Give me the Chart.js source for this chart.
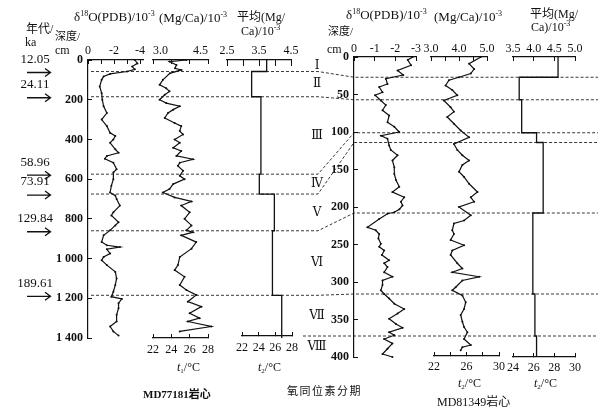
<!DOCTYPE html>
<html>
<head>
<meta charset="utf-8">
<script src="https://cdn.jsdelivr.net/npm/chart.js@4/dist/chart.umd.min.js"></script>
<style>
  html, body { margin: 0; padding: 0; background: #fff; }
  #fig { position: relative; width: 600px; height: 415px; overflow: hidden;
         font-family: 'Liberation Serif', 'Times New Roman', 'Noto Sans CJK SC', serif; color: #111; }
  #fig canvas { position: absolute; }
  .t { position: absolute; white-space: nowrap; font-size: 12px; line-height: 1; }
  .h { font-size: 13px; }
  .sup { font-size: 8px; position: relative; top: -5px; }
  .sub { font-size: 7px; position: relative; top: 2px; }
</style>
</head>
<body>
<div id="fig">
  <div class="t" style="left:26px;top:23px">年代/</div>
  <div class="t" style="left:25px;top:36px">ka</div>
  <div class="t" style="left:55px;top:31px;font-size:11px">深度/</div>
  <div class="t" style="left:55px;top:44px">cm</div>

  <div class="t h" style="left:74px;top:10px">δ<span class="sup">18</span>O(PDB)/10<span class="sup">-3</span></div>
  <div class="t h" style="left:159px;top:11px">(Mg/Ca)/10<span class="sup">-3</span></div>
  <div class="t" style="left:237px;top:11px">平均(Mg/</div>
  <div class="t" style="left:241px;top:25px">Ca)/10<span class="sup">-3</span></div>

  <div class="t h" style="left:346px;top:8px">δ<span class="sup">18</span>O(PDB)/10<span class="sup">-3</span></div>
  <div class="t h" style="left:434px;top:10px">(Mg/Ca)/10<span class="sup">-3</span></div>
  <div class="t" style="left:530px;top:8px">平均(Mg/</div>
  <div class="t" style="left:531px;top:21px">Ca)/10<span class="sup">-3</span></div>
  <div class="t" style="left:328px;top:26px;font-size:11px">深度/</div>
  <div class="t" style="left:327px;top:43px">cm</div>

  <div class="t" style="left:177px;top:361px"><i>t</i><span class="sub">1</span>/°C</div>
  <div class="t" style="left:258px;top:361px"><i>t</i><span class="sub">2</span>/°C</div>
  <div class="t" style="left:458px;top:377px"><i>t</i><span class="sub">2</span>/°C</div>
  <div class="t" style="left:534px;top:377px"><i>t</i><span class="sub">2</span>/°C</div>
  <div class="t" style="left:143px;top:389px;font-weight:bold;font-size:11px">MD77181岩心</div>
  <div class="t" style="left:287px;top:386px;font-size:11px;letter-spacing:1.5px">氧同位素分期</div>
  <div class="t" style="left:437px;top:396px">MD81349岩心</div>
</div>
<script>
// MD77181 (left core), depth in cm
const L_D18O_DEPTH = [0, 17, 33, 47, 58, 70, 83, 100, 133, 167, 200, 233, 267, 300, 333, 367, 383, 400, 417, 450,
  467, 483, 497, 517, 550, 567, 600, 633, 667, 683, 700, 733, 767, 783, 817, 833, 858, 883, 917, 933,
  942, 953, 975, 992, 1008, 1033, 1067, 1100, 1133, 1167, 1192, 1203, 1225, 1250, 1283, 1317, 1342, 1367, 1388]
const L_D18O = [-3.6, -3.8, -3.4, -3.6, -3.0, -1.7, -1.2, -1.05, -0.9, -1.05, -1.1, -1.2, -1.45, -1.05, -1.45, -1.7, -2.1, -1.95, -1.7, -2.1,
  -2.35, -1.45, -1.3, -1.95, -2.2, -1.95, -1.95, -1.8, -1.7, -2.1, -2.2, -2.45, -1.95, -1.8, -2.35, -2.1, -1.7, -1.2, -1.05, -1.45,
  -2.45, -1.45, -1.7, -1.2, -1.05, -1.45, -2.1, -2.2, -2.1, -1.95, -1.8, -2.6, -2.35, -2.35, -2.2, -2.2, -1.7, -1.95, -2.35]

const L_MGCA_DEPTH = [0, 8, 25, 42, 50, 67, 100, 125, 142, 158, 175, 200, 217, 233, 250, 267, 292, 317, 333, 358,
  375, 400, 417, 442, 458, 483, 500, 517, 533, 558, 583, 600, 625, 650, 667, 692, 712, 733, 767, 800,
  833, 858, 867, 883, 917, 950, 992, 1033, 1058, 1092, 1133, 1158, 1183, 1217, 1242, 1275, 1300, 1317, 1342, 1367]
const L_MGCA = [3.91, 3.45, 3.64, 3.6, 3.77, 3.46, 3.27, 3.18, 3.36, 3.45, 3.32, 3.18, 3.36, 3.73, 3.55, 3.41, 3.32, 3.59, 3.77, 3.73,
  3.82, 3.59, 3.73, 3.55, 3.77, 3.64, 4.09, 3.73, 3.68, 3.82, 3.73, 3.86, 3.55, 3.45, 3.27, 3.59, 4.05, 3.77, 4.0, 3.86,
  4.05, 3.91, 4.09, 3.77, 4.18, 4.05, 3.73, 3.68, 3.59, 3.86, 3.73, 3.91, 4.18, 3.95, 4.32, 4.0, 4.27, 3.95, 4.59, 3.73]

// stage boundaries (cm) and mean Mg/Ca per stage
const L_STAGE_DEPTH = [0, 58, 185, 575, 675, 860, 1185, 1400]
const L_AVG = [3.74, 3.27, 3.56, 3.51, 3.98, 3.92, 4.21]
const L_AGES = ['12.05', '24.11', '58.96', '73.91', '129.84', '189.61']

// MD81349 (right core)
const R_D18O_DEPTH = [0, 4, 11, 18, 24, 29, 36, 40, 47, 51, 58, 64, 71, 78, 87, 93, 100, 105, 109, 118,
  124, 131, 138, 147, 156, 164, 173, 180, 187, 193, 198, 203, 207, 209, 216, 227, 231, 236, 242, 249,
  253, 258, 264, 271, 275, 280, 287, 293, 298, 304, 311, 316, 322, 329, 336, 342, 349, 356, 361, 367,
  371, 376, 382, 389, 396, 400]
const R_D18O = [-2.84, -2.6, -2.76, -2.11, -2.38, -1.54, -1.62, -1.22, -1.38, -1.02, -1.3, -1.54, -1.38, -1.7, -1.62, -1.95, -2.19, -1.31, -1.62, -1.7,
  -1.78, -2.11, -1.86, -1.95, -1.95, -2.03, -2.19, -1.86, -2.43, -2.27, -2.35, -2.2, -1.95, -1.62, -1.22, -0.65, -1.05, -1.22, -1.18, -1.3,
  -1.22, -1.46, -1.35, -1.7, -1.46, -1.62, -1.46, -1.86, -1.38, -1.38, -1.3, -1.46, -1.7, -1.95, -2.43, -2.11, -1.7, -2.03, -2.35, -1.7,
  -1.95, -1.46, -1.86, -1.62, -1.38, -1.86]

const R_MGCA_DEPTH = [0, 9, 16, 22, 27, 31, 38, 44, 51, 58, 67, 73, 80, 89, 98, 107, 116, 124, 131, 138,
  144, 153, 160, 169, 180, 187, 193, 200, 211, 218, 222, 231, 236, 244, 251, 258, 264, 275, 282, 287,
  293, 298, 307, 311, 318, 327, 336, 344, 353, 360, 367, 376, 384, 387, 391]
const R_MGCA = [4.78, 4.36, 4.54, 4.42, 4.0, 3.64, 3.52, 3.76, 3.94, 3.46, 3.7, 3.82, 3.58, 3.82, 4.06, 4.36, 3.82, 3.94, 4.12, 4.36,
  4.12, 4.0, 4.18, 4.36, 4.66, 4.42, 4.54, 4.0, 4.42, 4.18, 3.82, 3.76, 3.82, 3.7, 4.18, 3.76, 3.7, 3.94, 4.12, 3.76,
  4.72, 4.12, 3.88, 3.76, 4.12, 4.24, 4.18, 4.06, 4.12, 4.18, 4.3, 4.18, 4.42, 4.12, 4.06]

const R_STAGE_DEPTH = [0, 27, 57, 101, 114, 208, 316, 372, 400]
const R_AVG = [4.59, 3.65, 3.71, 4.07, 4.23, 3.98, 4.03, 4.07]
const STAGES = ['Ⅰ', 'Ⅱ', 'Ⅲ', 'Ⅳ', 'Ⅴ', 'Ⅵ', 'Ⅶ', 'Ⅷ']

// axis ticks / labels
const L_DEPTH_TICKS = [0, 200, 400, 600, 800, 1000, 1200, 1400]
const L_DEPTH_LABELS = ['0', '200', '400', '600', '800', '1 000', '1 200', '1 400']
const R_DEPTH_TICKS = [0, 50, 100, 150, 200, 250, 300, 350, 400]
const R_DEPTH_LABELS = ['0', '50', '100', '150', '200', '250', '300', '350', '400']
const L_D18O_TICKS = [0, -1, -2, -3, -4]
const L_D18O_LABELS = ['0', '', '-2', '', '-4']
const L_MGCA_TICKS = [3.0, 3.5, 4.0, 4.5]
const L_MGCA_LABELS = ['3.0', '', '', '4.5']
const L_AVG_TICKS = [2.5, 3.0, 3.5, 4.0, 4.5]
const L_AVG_LABELS = ['2.5', '', '3.5', '', '4.5']
const L_T_TICKS = [22, 24, 26, 28]
const L_T_LABELS = ['22', '24', '26', '28']
const R_D18O_TICKS = [0, -1, -2, -3]
const R_D18O_LABELS = ['0', '-1', '-2', '-3']
const R_MGCA_TICKS = [3.0, 3.5, 4.0, 4.5, 5.0]
const R_MGCA_LABELS = ['3.0', '', '4.0', '', '5.0']
const R_T1_TICKS = [22, 24, 26, 28, 30]
const R_T1_LABELS = ['22', '', '26', '', '30']
const R_AVG_TICKS = [3.5, 4.0, 4.5, 5.0]
const R_AVG_LABELS = ['3.5', '4.0', '4.5', '5.0']
const R_T2_TICKS = [24, 26, 28, 30]
const R_T2_LABELS = ['24', '26', '28', '30']

const INK = '#111'
const M = 16 // spare room round every canvas for labels
const fig = document.getElementById('fig')
Chart.defaults.font.family = "'Liberation Serif', 'Times New Roman', serif"
Chart.defaults.font.size = 12
Chart.defaults.color = INK

// pixel frame of each core (depth 0 / bottom depth)
const L_Y0 = 60, L_Y1 = 338, L_MAX = 1400
const R_Y0 = 57, R_Y1 = 357, R_MAX = 400

function scale(o, position) {
  const base = { type: 'linear', position, min: o.min, max: o.max, reverse: !!o.reverse }
  if (!o.ticks) return { ...base, display: false }
  return {
    ...base,
    afterBuildTicks: s => { s.ticks = o.ticks.map(v => ({ value: v })) },
    afterFit: s => {
      if (s.isHorizontal()) s.height = o.size
      else s.width = o.size
      s.paddingLeft = s.paddingRight = s.paddingTop = s.paddingBottom = 0
    },
    grid: { drawOnChartArea: false, drawTicks: true, tickLength: o.tl || -4, color: INK, lineWidth: 1 },
    border: { display: true, color: INK, width: 1.2 },
    ticks: {
      autoSkip: false, maxRotation: 0, minRotation: 0, padding: o.pad, align: o.align || 'center', color: INK,
      font: { size: 12, weight: o.bold ? 'bold' : 'normal' },
      callback: (v, i) => o.labels[i]
    }
  }
}

function panel(r, o) {
  const topH = o.top.ticks ? o.top.size : 0
  const botH = o.bottom && o.bottom.ticks ? o.bottom.size : 0
  const leftW = o.left.ticks ? o.left.size : 0
  const c = document.createElement('canvas')
  c.width = r.w + leftW + 2 * M
  c.height = r.h + topH + botH + 2 * M
  c.style.left = (r.x - leftW - M) + 'px'
  c.style.top = (r.y - topH - M) + 'px'
  fig.appendChild(c)
  const scales = { x: scale(o.top, 'top'), y: scale(o.left, 'left') }
  if (o.bottom) scales.x2 = scale(o.bottom, 'bottom')
  return new Chart(c, {
    type: 'line',
    data: { datasets: o.data || [] },
    options: {
      responsive: false, animation: false, events: [],
      layout: { padding: M, autoPadding: false },
      plugins: { legend: { display: false }, tooltip: { enabled: false } },
      scales
    }
  })
}

function curve(vals, depths) {
  return {
    data: vals.map((v, i) => ({ x: v, y: depths[i] })),
    borderColor: INK, borderWidth: 1.2, pointRadius: 1, pointBorderWidth: 0,
    pointBackgroundColor: INK, tension: 0, clip: false
  }
}

function steps(vals, bounds) {
  const data = []
  vals.forEach((v, i) => { data.push({ x: v, y: bounds[i] }, { x: v, y: bounds[i + 1] }) })
  return { data, borderColor: INK, borderWidth: 1.3, pointRadius: 0, tension: 0, clip: false }
}

const leftDepth = { min: 0, max: L_MAX, reverse: true }
const rightDepth = { min: 0, max: R_MAX, reverse: true }
const none = { min: 0, max: 1 }

// ---- MD77181 ----
panel({ x: 88, y: L_Y0, w: 55, h: L_Y1 - L_Y0 }, {
  top: { min: -4.23, max: 0, reverse: true, ticks: L_D18O_TICKS, labels: L_D18O_LABELS, size: 18, pad: 6 },
  left: { ...leftDepth, ticks: L_DEPTH_TICKS, labels: L_DEPTH_LABELS, size: 32, pad: 9, bold: true },
  data: [curve(L_D18O, L_D18O_DEPTH)]
})
panel({ x: 153, y: L_Y0, w: 55, h: L_Y1 - L_Y0 }, {
  top: { min: 3.0, max: 4.5, ticks: L_MGCA_TICKS, labels: L_MGCA_LABELS, size: 18, pad: 6, align: 'inner' },
  left: leftDepth,
  bottom: { min: 22, max: 28, ticks: L_T_TICKS, labels: L_T_LABELS, size: 20, pad: 9 },
  data: [curve(L_MGCA, L_MGCA_DEPTH)]
})
panel({ x: 227, y: L_Y0, w: 64, h: L_Y1 - L_Y0 }, {
  top: { min: 2.5, max: 4.5, ticks: L_AVG_TICKS, labels: L_AVG_LABELS, size: 18, pad: 8, tl: -6 },
  left: leftDepth,
  data: [steps(L_AVG, L_STAGE_DEPTH)]
})
panel({ x: 242, y: 335, w: 50, h: 1 }, {
  top: none, left: none,
  bottom: { min: 22, max: 28, ticks: L_T_TICKS, labels: L_T_LABELS, size: 20, pad: 9 }
})

// ---- MD81349 ----
panel({ x: 354, y: R_Y0, w: 62, h: R_Y1 - R_Y0 }, {
  top: { min: -3, max: 0, reverse: true, ticks: R_D18O_TICKS, labels: R_D18O_LABELS, size: 18, pad: 5 },
  left: { ...rightDepth, ticks: R_DEPTH_TICKS, labels: R_DEPTH_LABELS, size: 32, pad: 9, bold: true },
  data: [curve(R_D18O, R_D18O_DEPTH)]
})
panel({ x: 431, y: R_Y0, w: 56, h: R_Y1 - R_Y0 }, {
  top: { min: 3.0, max: 5.0, ticks: R_MGCA_TICKS, labels: R_MGCA_LABELS, size: 18, pad: 5 },
  left: rightDepth,
  data: [curve(R_MGCA, R_MGCA_DEPTH)]
})
panel({ x: 434, y: 355, w: 65, h: 1 }, {
  top: none, left: none,
  bottom: { min: 22, max: 30, ticks: R_T1_TICKS, labels: R_T1_LABELS, size: 20, pad: 8 }
})
panel({ x: 513, y: R_Y0, w: 62, h: R_Y1 - R_Y0 }, {
  top: { min: 3.5, max: 5.0, ticks: R_AVG_TICKS, labels: R_AVG_LABELS, size: 18, pad: 5 },
  left: rightDepth,
  bottom: { min: 24, max: 30, ticks: R_T2_TICKS, labels: R_T2_LABELS, size: 20, pad: 8 },
  data: [steps(R_AVG, R_STAGE_DEPTH)]
})

// ---- stage boundaries, links between cores, ages ----
const LEFT_BOUNDS = L_STAGE_DEPTH.slice(1, -1)
const RIGHT_BOUNDS = R_STAGE_DEPTH.slice(1, -1)
const LINK_X = [91, 318, 354, 598]
const LONE_X = 303
const STAGE_X = 317

const stagePlugin = {
  id: 'stages',
  afterDraw(chart) {
    const { ctx, scales: { yL, yR } } = chart
    ctx.save()
    ctx.strokeStyle = '#222'
    ctx.lineWidth = 0.9
    ctx.setLineDash([3, 2])
    const colY = []
    RIGHT_BOUNDS.forEach((rd, i) => {
      const yr = yR.getPixelForValue(rd)
      ctx.beginPath()
      if (i < LEFT_BOUNDS.length) {
        const yl = yL.getPixelForValue(LEFT_BOUNDS[i])
        colY.push(yl)
        ctx.moveTo(LINK_X[0], yl)
        ctx.lineTo(LINK_X[1], yl)
        ctx.lineTo(LINK_X[2], yr)
      } else {
        colY.push(yr)
        ctx.moveTo(LONE_X, yr)
      }
      ctx.lineTo(LINK_X[3], yr)
      ctx.stroke()
    })
    ctx.setLineDash([])

    // stage numerals
    const edges = [yL.getPixelForValue(0), ...colY, yR.getPixelForValue(R_MAX)]
    ctx.fillStyle = INK
    ctx.font = "12px 'DejaVu Serif', 'Liberation Serif', 'Noto Sans CJK SC', serif"
    ctx.textAlign = 'center'
    ctx.textBaseline = 'middle'
    STAGES.forEach((s, i) => ctx.fillText(s, STAGE_X, (edges[i] + edges[i + 1]) / 2))

    // ages with arrows at the MD77181 boundaries
    ctx.font = "13px 'Liberation Serif', serif"
    ctx.lineWidth = 1.3
    ctx.strokeStyle = INK
    L_AGES.forEach((a, i) => {
      const y = yL.getPixelForValue(LEFT_BOUNDS[i]) + 1
      ctx.fillText(a, 35, y - 13)
      ctx.beginPath()
      ctx.moveTo(27, y); ctx.lineTo(50, y)
      ctx.moveTo(45, y - 4); ctx.lineTo(50.5, y); ctx.lineTo(45, y + 4)
      ctx.stroke()
    })
    ctx.restore()
  }
}

const ov = document.createElement('canvas')
ov.width = 600
ov.height = 415
ov.style.left = '0px'
ov.style.top = '0px'
fig.insertBefore(ov, fig.firstChild)
const kL = L_MAX / (L_Y1 - L_Y0), kR = R_MAX / (R_Y1 - R_Y0)
new Chart(ov, {
  type: 'line',
  data: { datasets: [] },
  options: {
    responsive: false, animation: false, events: [],
    layout: { padding: 0, autoPadding: false },
    plugins: { legend: { display: false }, tooltip: { enabled: false } },
    scales: {
      x: { type: 'linear', display: false, min: 0, max: 600 },
      yL: { type: 'linear', display: false, reverse: true, min: -L_Y0 * kL, max: (415 - L_Y0) * kL },
      yR: { type: 'linear', display: false, reverse: true, min: -R_Y0 * kR, max: (415 - R_Y0) * kR }
    }
  },
  plugins: [stagePlugin]
})
</script>
</body>
</html>
